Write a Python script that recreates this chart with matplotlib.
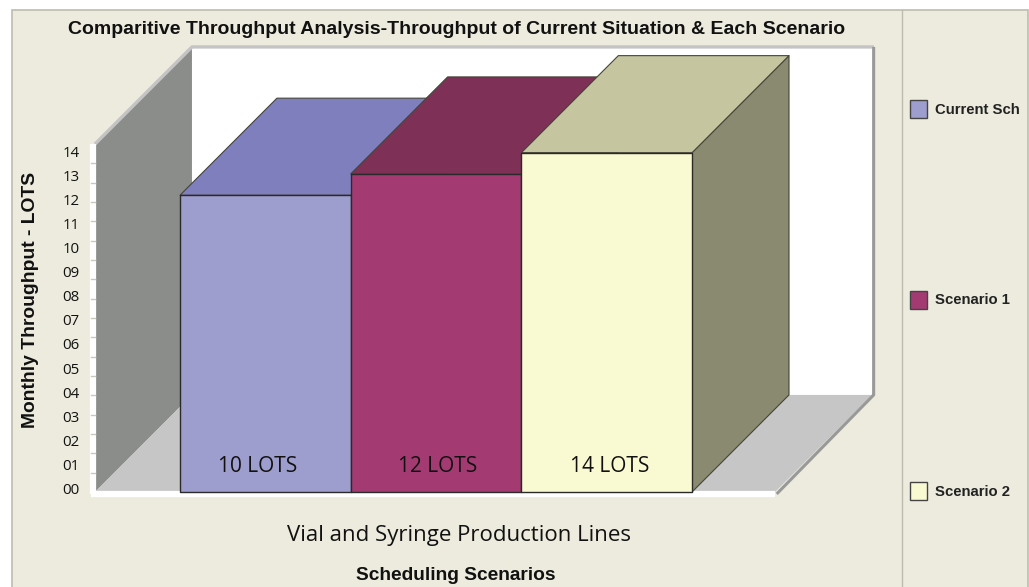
import matplotlib
matplotlib.use("Agg")
import matplotlib.pyplot as plt
from matplotlib.patches import Polygon, Rectangle

# bar heights in axis tick units, lots as printed on the bars
categories = ["Current Sch", "Scenario 1", "Scenario 2"]
bar_heights = [15.35, 16.45, 17.55]
bar_lots = [10, 12, 14]
tick_labels = ["00", "01", "02", "03", "04", "05", "06", "07",
               "08", "09", "10", "11", "12", "13", "14"]
n_ticks = 18

FRONT = ["#9D9DCE", "#A33B72", "#FAFAD2"]
TOP = ["#7F7FBD", "#7E3057", "#C5C6A0"]
SIDE = ["#6F6F98", "#6A2A4A", "#8A8A70"]
LABEL_SHIFT = [-0.045, 0.01, 0.02]
BG = "#ECEBDD"
EDGE = "#2A2A2A"
BOLD = "Liberation Sans"
PLAIN = "Open Sans"

W, H = 1029, 587
DX, DY = 0.568, 5.02  # depth of the fake 3d box in data units
XMIN, XMAX = -0.998, 2.986


def poly(ax, pts, color, edge="none", lw=0.0, z=1):
    ax.add_patch(Polygon(pts, closed=True, facecolor=color, edgecolor=edge,
                         linewidth=lw, zorder=z, clip_on=False, joinstyle="round"))


fig = plt.figure(figsize=(W / 100, H / 100), dpi=100, facecolor="white")

# page furniture, in pixels
bg = fig.add_axes([0, 0, 1, 1])
bg.set_xlim(0, W)
bg.set_ylim(H, 0)
bg.axis("off")
bg.add_patch(Rectangle((12, 10), 1016, 590, facecolor=BG, edgecolor="#BDBCAE", linewidth=1.2))
bg.plot([902, 902], [10, H], color="#BDBCAE", lw=1.0)

bg.text(456.5, 29.5, "Comparitive Throughput Analysis-Throughput of Current Situation & Each Scenario",
        family=BOLD, weight="bold", fontsize=14, ha="center", va="center", color="#111111")
bg.text(31, 300, "Monthly Throughput - LOTS", family=BOLD, weight="bold", fontsize=13.9,
        rotation=90, ha="center", va="center", color="#111111")
bg.text(459, 536, "Vial and Syringe Production Lines", family=PLAIN, fontsize=16,
        ha="center", va="center", color="#111111")
bg.text(456, 575, "Scheduling Scenarios", family=BOLD, weight="bold", fontsize=13.8,
        ha="center", va="center", color="#111111")

# y labels are spaced on their own, not on the ticks
for i, lab in enumerate(tick_labels):
    bg.text(71, 490.5 - i * 24.1, lab, family=PLAIN, fontsize=10.8, ha="center", va="center",
            color="#111111")

for name, color, y in zip(categories, FRONT, [109, 300, 491]):
    bg.add_patch(Rectangle((909.5, y - 9), 17.5, 17.5, facecolor=color, edgecolor="#444444", linewidth=1.0))
    bg.text(935, y + 0.5, name, family=BOLD, weight="bold", fontsize=10.7, ha="left", va="center",
            color="#222222")

# plot area: front plane of the box
ax = fig.add_axes([95 / W, (H - 492) / H, 680 / W, 348 / H])
ax.patch.set_visible(False)
ax.set_xlim(XMIN, XMAX)
ax.set_ylim(0, n_ticks)
ax.axis("off")

# walls
poly(ax, [(XMIN + DX, DY), (XMAX + DX, DY), (XMAX + DX, n_ticks + DY), (XMIN + DX, n_ticks + DY)], "white", z=1)
poly(ax, [(XMIN, 0), (XMIN + DX, DY), (XMIN + DX, n_ticks + DY), (XMIN, n_ticks)], "#8B8D8B", z=2)
poly(ax, [(XMIN, 0), (XMAX, 0), (XMAX + DX, DY), (XMIN + DX, DY)], "#C6C6C6", z=2)

# wall rims
ax.plot([XMIN, XMIN + DX, XMAX + DX + 0.012], [n_ticks, n_ticks + DY, n_ticks + DY], color="#C4C4C4",
        lw=2.4, zorder=3, clip_on=False, solid_capstyle="butt")
ax.plot([XMAX + DX + 0.01, XMAX + DX + 0.01, XMAX + 0.01], [n_ticks + DY, DY, -0.1], color="#999999",
        lw=2.2, zorder=3, clip_on=False, solid_capstyle="butt")
ax.plot([XMIN - 0.012, XMIN - 0.012], [n_ticks, -0.1], color="white", lw=4.5, zorder=3, clip_on=False,
        solid_capstyle="butt")
ax.plot([XMIN - 0.024, XMAX], [-0.1, -0.1], color="white", lw=4.5, zorder=3, clip_on=False,
        solid_capstyle="butt")
for t in range(1, n_ticks):
    ax.plot([XMIN - 0.024, XMIN], [t, t], color="#C8C8BC", lw=1.0, zorder=4, clip_on=False)

# bars
for i, (h, lots) in enumerate(zip(bar_heights, bar_lots)):
    l, r = i - 0.5, i + 0.5
    z = 5 + i
    poly(ax, [(r, 0), (r + DX, DY), (r + DX, h + DY), (r, h)], SIDE[i], "#444438", 0.8, z)
    poly(ax, [(l, h), (r, h), (r + DX, h + DY), (l + DX, h + DY)], TOP[i], "#444438", 0.8, z)
    poly(ax, [(l, 0), (r, 0), (r, h), (l, h)], FRONT[i], EDGE, 1.0, z)
    ax.text(i + LABEL_SHIFT[i], 1.32, f"{lots} LOTS", family=PLAIN, fontsize=15, ha="center", va="center",
            color="#111111", zorder=20)

fig.savefig("out.png", dpi=100, facecolor=fig.get_facecolor())
